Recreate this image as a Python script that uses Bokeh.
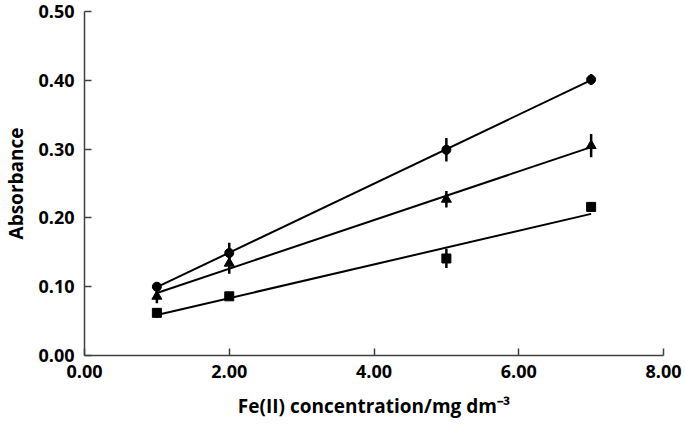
import numpy as np
from bokeh.plotting import figure
from bokeh.models import Range1d, FixedTicker, NumeralTickFormatter
from bokeh.embed import file_html
from bokeh.resources import INLINE

conc = [1, 2, 5, 7]
abs_circle = [0.100, 0.149, 0.299, 0.401]
err_circle = [0.005, 0.015, 0.017, 0.008]
abs_triangle = [0.086, 0.134, 0.227, 0.305]
err_triangle = [0.010, 0.015, 0.012, 0.017]
abs_square = [0.062, 0.086, 0.141, 0.216]
err_square = [0.007, 0.003, 0.014, 0.007]
x_ticks = [0, 2, 4, 6, 8]
y_ticks = [0.0, 0.1, 0.2, 0.3, 0.4, 0.5]

FONT = "Open Sans"
p = figure(width=682, height=425, output_backend="svg", toolbar_location=None,
           x_range=Range1d(0, 8), y_range=Range1d(0, 0.5),
           min_border_left=83, min_border_right=19, min_border_top=11, min_border_bottom=70)
p.outline_line_color = None
p.xgrid.visible = False
p.ygrid.visible = False

for ys, es, marker in [(abs_circle, err_circle, "circle"),
                       (abs_triangle, err_triangle, "triangle"),
                       (abs_square, err_square, "square")]:
    xs = np.array(conc, dtype=float)
    ya = np.array(ys)
    ea = np.array(es)
    m, b = np.polyfit(xs, ya, 1)
    p.line([xs[0], xs[-1]], [m * xs[0] + b, m * xs[-1] + b], line_color="black", line_width=2)
    p.segment(x0=xs, y0=ya - ea, x1=xs, y1=ya + ea, line_color="black", line_width=2.5)
    size = 9 if marker != "triangle" else 10
    p.scatter(xs, ya, marker=marker, size=size, fill_color="black", line_color="black")

for ax in (p.xaxis[0], p.yaxis[0]):
    ax.axis_line_color = "#404040"
    ax.axis_line_width = 1.5
    ax.major_tick_line_color = "#404040"
    ax.major_tick_line_width = 1.5
    ax.major_tick_in = 7
    ax.major_tick_out = 0
    ax.minor_tick_line_color = None
    ax.major_label_text_font = FONT
    ax.major_label_text_font_style = "bold"
    ax.major_label_text_font_size = "18px"
    ax.major_label_text_color = "black"
    ax.axis_label_text_font = FONT
    ax.axis_label_text_font_style = "bold"
    ax.axis_label_text_font_size = "19px"
    ax.axis_label_text_color = "black"
    ax.formatter = NumeralTickFormatter(format="0.00")

p.xaxis.ticker = FixedTicker(ticks=x_ticks)
p.yaxis.ticker = FixedTicker(ticks=y_ticks)
p.xaxis.axis_label = "Fe(II) concentration/mg dm\u207b\u00b3"
p.yaxis.axis_label = "Absorbance"
p.xaxis.major_label_standoff = 9
p.yaxis.major_label_standoff = 10
p.xaxis.axis_label_standoff = 12
p.yaxis.axis_label_standoff = 6

open("out.html", "w").write(file_html(p, INLINE))
